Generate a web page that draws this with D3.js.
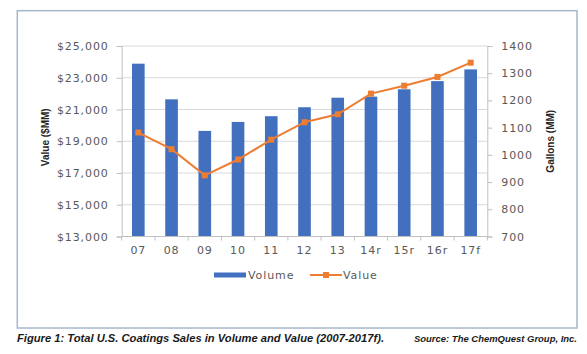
<!DOCTYPE html>
<html>
<head>
<meta charset="utf-8">
<script src="https://cdn.jsdelivr.net/npm/d3@7"></script>
<style>
  body { margin: 0; background: #fff; }
  text { font-family: "DejaVu Sans", sans-serif; }
</style>
</head>
<body>
<div id="chart"></div>
<script>
// data
const years = ["07", "08", "09", "10", "11", "12", "13", "14r", "15r", "16r", "17f"];
const volume = [1335, 1204, 1088, 1121, 1142, 1175, 1210, 1214, 1241, 1271, 1314]; // gallons (MM)
const value = [19550, 18500, 16850, 17850, 19100, 20200, 20700, 22000, 22500, 23050, 23950]; // $MM
const valueTicks = [13000, 15000, 17000, 19000, 21000, 23000, 25000];
const gallonTicks = [700, 800, 900, 1000, 1100, 1200, 1300, 1400];

const W = 587, H = 354;
const PLOT = {left: 121.7, right: 487.3, top: 46, bottom: 236.5};
const BLUE = "#4270bf", ORANGE = "#ed7d31", GRID = "#d9d9d9", AXIS = "#bfbfbf", LABEL = "#595959";

const svg = d3.select("#chart").append("svg")
    .attr("width", W)
    .attr("height", H);

// outer frame
svg.append("rect")
    .attr("x", 17.3).attr("y", 10.7)
    .attr("width", 577 - 17.3).attr("height", 328 - 10.7)
    .attr("fill", "none")
    .attr("stroke", "#a7b6cb")
    .attr("stroke-width", 1.5);

var x = d3.scaleBand()
    .domain(years)
    .range([PLOT.left, PLOT.right])
    .paddingInner(0.62)
    .paddingOuter(0.31);

var yVal = d3.scaleLinear().domain([13000, 25000]).range([PLOT.bottom, PLOT.top]);
var yGal = d3.scaleLinear().domain([700, 1400]).range([PLOT.bottom, PLOT.top]);

// gridlines
svg.append("g")
    .selectAll("line")
    .data(valueTicks.slice(1))
    .join("line")
    .attr("x1", PLOT.left).attr("x2", PLOT.right)
    .attr("y1", d => yVal(d)).attr("y2", d => yVal(d))
    .attr("stroke", GRID);

// left axis
const gLeft = svg.append("g")
    .attr("transform", `translate(${PLOT.left},0)`)
    .call(d3.axisLeft(yVal).tickValues(valueTicks).tickSize(5).tickPadding(8)
        .tickFormat(d => "$" + d3.format(",")(d)));

// right axis
const gRight = svg.append("g")
    .attr("transform", `translate(${PLOT.right},0)`)
    .call(d3.axisRight(yGal).tickValues(gallonTicks).tickSize(5).tickPadding(9)
        .tickFormat(d3.format("d")));

[gLeft, gRight].forEach(g => {
    g.select(".domain").attr("stroke", AXIS);
    g.selectAll(".tick line").attr("stroke", AXIS);
    g.selectAll(".tick text")
        .attr("fill", LABEL)
        .style("font-size", "11px")
        .style("letter-spacing", "0.9px");
});

// bars (volume, right axis)
svg.append("g")
    .selectAll("rect")
    .data(years)
    .join("rect")
    .attr("x", d => x(d))
    .attr("y", (d, i) => yGal(volume[i]))
    .attr("width", x.bandwidth())
    .attr("height", (d, i) => PLOT.bottom - yGal(volume[i]))
    .attr("fill", BLUE);

// bottom axis
const step = x.step();
const gBottom = svg.append("g");
gBottom.append("line")
    .attr("x1", PLOT.left).attr("x2", PLOT.right)
    .attr("y1", PLOT.bottom).attr("y2", PLOT.bottom)
    .attr("stroke", AXIS);
gBottom.selectAll(".btick")
    .data(d3.range(years.length + 1))
    .join("line")
    .attr("x1", i => PLOT.left + i * step)
    .attr("x2", i => PLOT.left + i * step)
    .attr("y1", PLOT.bottom).attr("y2", PLOT.bottom + 4)
    .attr("stroke", AXIS);
gBottom.selectAll(".blabel")
    .data(years)
    .join("text")
    .attr("x", d => x(d) + x.bandwidth() / 2)
    .attr("y", 254)
    .attr("text-anchor", "middle")
    .attr("fill", LABEL)
    .style("font-size", "11px")
    .style("letter-spacing", "0.9px")
    .text(d => d);

// value line (left axis)
const line = d3.line()
    .x((d, i) => x(years[i]) + x.bandwidth() / 2)
    .y(d => yVal(d));

svg.append("path")
    .datum(value)
    .attr("d", line)
    .attr("fill", "none")
    .attr("stroke", ORANGE)
    .attr("stroke-width", 2);

svg.append("g")
    .selectAll("rect")
    .data(value)
    .join("rect")
    .attr("x", (d, i) => x(years[i]) + x.bandwidth() / 2 - 3)
    .attr("y", d => yVal(d) - 3)
    .attr("width", 6).attr("height", 6)
    .attr("fill", ORANGE);

// axis titles
svg.append("text")
    .attr("transform", `translate(49,${(PLOT.top + PLOT.bottom) / 2 - 4}) rotate(-90)`)
    .attr("text-anchor", "middle")
    .attr("fill", "#262626")
    .style("font-family", "'Liberation Sans', Arial, sans-serif")
    .style("font-weight", "bold")
    .style("font-size", "10px")
    .text("Value ($MM)");

svg.append("text")
    .attr("transform", `translate(554,${(PLOT.top + PLOT.bottom) / 2}) rotate(-90)`)
    .attr("text-anchor", "middle")
    .attr("fill", "#262626")
    .style("font-family", "'Liberation Sans', Arial, sans-serif")
    .style("font-weight", "bold")
    .style("font-size", "10px")
    .text("Gallons (MM)");

// legend
const legend = svg.append("g");
legend.append("rect")
    .attr("x", 214).attr("y", 272.5)
    .attr("width", 32).attr("height", 5)
    .attr("fill", BLUE);
legend.append("text")
    .attr("x", 248).attr("y", 279)
    .attr("fill", LABEL)
    .style("font-size", "11px")
    .style("letter-spacing", "0.9px")
    .text("Volume");
legend.append("line")
    .attr("x1", 310).attr("x2", 342)
    .attr("y1", 275).attr("y2", 275)
    .attr("stroke", ORANGE).attr("stroke-width", 2);
legend.append("rect")
    .attr("x", 323).attr("y", 272)
    .attr("width", 6).attr("height", 6)
    .attr("fill", ORANGE);
legend.append("text")
    .attr("x", 343).attr("y", 279)
    .attr("fill", LABEL)
    .style("font-size", "11px")
    .style("letter-spacing", "0.9px")
    .text("Value");

// caption
svg.append("text")
    .attr("x", 17).attr("y", 342)
    .attr("fill", "#1a1a1a")
    .attr("textLength", 367)
    .attr("lengthAdjust", "spacingAndGlyphs")
    .style("font-family", "'Liberation Sans', Arial, sans-serif")
    .style("font-weight", "bold")
    .style("font-style", "italic")
    .style("font-size", "10px")
    .text("Figure 1: Total U.S. Coatings Sales in Volume and Value (2007-2017f).");

svg.append("text")
    .attr("x", 414).attr("y", 342)
    .attr("fill", "#1a1a1a")
    .attr("textLength", 163)
    .attr("lengthAdjust", "spacingAndGlyphs")
    .style("font-family", "'Liberation Sans', Arial, sans-serif")
    .style("font-weight", "bold")
    .style("font-style", "italic")
    .style("font-size", "9px")
    .text("Source: The ChemQuest Group, Inc.");
</script>
</body>
</html>
